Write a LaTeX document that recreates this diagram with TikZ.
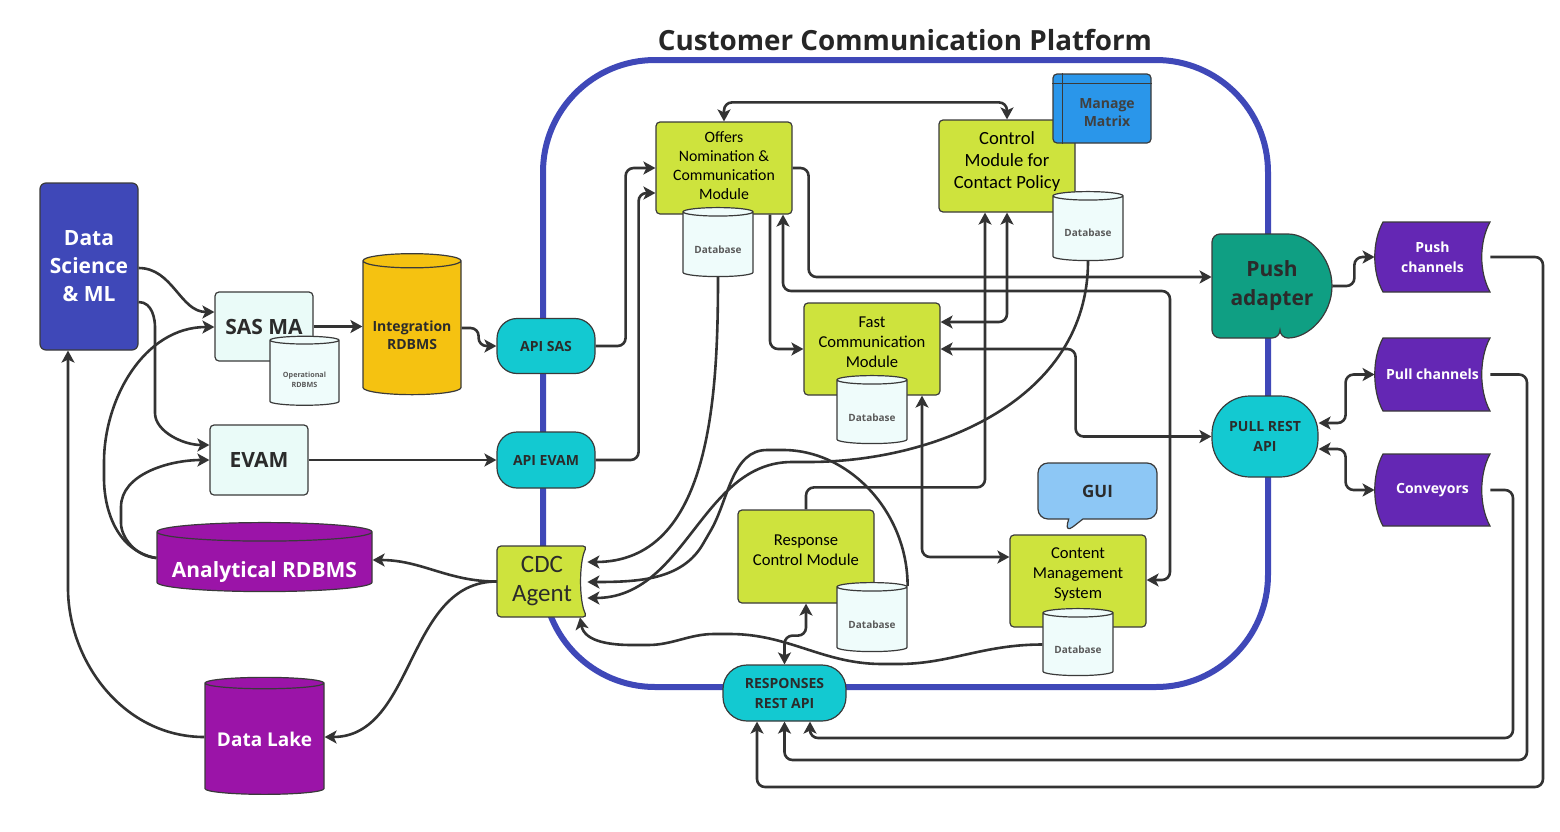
\documentclass[tikz,border=0pt]{standalone}
\usepackage{fontspec}
\setmainfont{Open Sans}
\newfontfamily\carl{Carlito}
\usetikzlibrary{arrows.meta, shapes.geometric, shapes.callouts}

\definecolor{ccpblue}{HTML}{3F48B8}
\definecolor{paleteal}{HTML}{EAFBF8}
\definecolor{dbfill}{HTML}{EFFCFB}
\definecolor{gold}{HTML}{F5C211}
\definecolor{turq}{HTML}{13C9D1}
\definecolor{lime}{HTML}{CEE33D}
\definecolor{lakepurple}{HTML}{9B14A8}
\definecolor{chanviolet}{HTML}{6427B4}
\definecolor{mmblue}{HTML}{2A96EA}
\definecolor{pushteal}{HTML}{0F9F83}
\definecolor{guiblue}{HTML}{8DC7F5}
\definecolor{linegray}{HTML}{333333}
\definecolor{edgegray}{HTML}{3A3A3A}
\definecolor{darktext}{HTML}{2B2B2B}
\definecolor{dbtext}{HTML}{5A5A5A}

% move the text of a cylinder down without changing its size
\newcommand\dbshift[2]{\raisebox{-#1}[\height][\depth]{\begin{tabular}{@{}c@{}}#2\end{tabular}}}

\tikzset{
  box/.style={draw=edgegray, line width=0.6pt, rounded corners=2pt, inner sep=0pt, align=center, text=darktext},
  module/.style={box, fill=lime, minimum width=68pt, minimum height=46pt},
  modtext/.style={align=center, text=black, font=\carl\fontsize{8.3}{10}\selectfont},
  db/.style={cylinder, shape border rotate=90, aspect=0.18, draw=edgegray, line width=0.6pt, fill=dbfill,
    inner sep=0pt, text=dbtext, font=\bfseries\fontsize{5}{6}\selectfont},
  api/.style={box, fill=turq, rounded corners=10pt, font=\bfseries\fontsize{7}{10}\selectfont},
  chan/.style={inner sep=0pt, align=center, text=white, font=\bfseries\fontsize{7}{10}\selectfont,
    minimum width=57.5pt, minimum height=35pt},
  conn/.style={draw=linegray, line width=1.3pt, rounded corners=4pt},
  arr/.style={-{Stealth[length=6pt, width=6.5pt, inset=1.5pt]}},
  arrs/.style={{Stealth[length=6pt, width=6.5pt, inset=1.5pt]}-{Stealth[length=6pt, width=6.5pt, inset=1.5pt]}}
}

\begin{document}
\begin{tikzpicture}[x=0.5pt, y=-0.5pt]
  \useasboundingbox (0,0) rectangle (1560,831);

  % platform frame and title
  \node (ccp) [draw=ccpblue, line width=3pt, rounded corners=56pt, inner sep=0pt,
    minimum width=362.5pt, minimum height=313.5pt] at (905.5,373.5) {};
  \node (title) at (905,40) [font=\bfseries\fontsize{13.9}{16}\selectfont, text=black!85] {Customer Communication Platform};

  % left side
  \node (ds) [box, fill=ccpblue, rounded corners=3pt, minimum width=49pt, minimum height=83.5pt, text=white,
    font=\bfseries\fontsize{10.5}{14}\selectfont] at (89,266.5) {Data\\Science\\\& ML};
  \node (sasma) [box, fill=paleteal, minimum width=49pt, minimum height=34.5pt,
    font=\bfseries\fontsize{10.5}{12}\selectfont] at (264,326.5) {SAS MA};
  \node (oprdbms) [db, minimum width=34.5pt, minimum height=34.5pt, font=\bfseries\fontsize{3.6}{5}\selectfont]
    at (304.5,373) {\dbshift{3.7pt}{Operational\\RDBMS}};
  \node (intdb) [db, fill=gold, minimum width=49pt, minimum height=70.5pt, text=darktext,
    font=\bfseries\fontsize{7}{9}\selectfont] at (412,328) {\dbshift{4.2pt}{Integration\\RDBMS}};
  \node (evam) [box, fill=paleteal, minimum width=49pt, minimum height=35pt,
    font=\bfseries\fontsize{10.5}{12}\selectfont] at (259,460) {EVAM};
  \node (anadb) [db, fill=lakepurple, aspect=0.1, minimum width=107.5pt, minimum height=34.5pt, text=white,
    font=\bfseries\fontsize{10.5}{12}\selectfont] at (264.5,562) {\dbshift{5.5pt}{Analytical RDBMS}};
  \node (lake) [db, fill=lakepurple, aspect=0.12, minimum width=59.5pt, minimum height=58.5pt, text=white,
    font=\bfseries\fontsize{9.5}{11}\selectfont] at (264.5,739) {Data Lake};

  % gateways on the frame
  \node (apisas) [api, minimum width=49pt, minimum height=27.5pt] at (546,346) {API SAS};
  \node (apievam) [api, minimum width=49pt, minimum height=28pt] at (546,460) {API EVAM};
  \filldraw [fill=lime, draw=edgegray, line width=0.6pt, rounded corners=2pt]
    (497,546) -- (587,546) .. controls (579,562) and (579,601) .. (587,617) -- (497,617) -- cycle;
  \node (cdc) [inner sep=0pt, minimum width=45pt, minimum height=35.5pt, align=center, text=darktext,
    font=\carl\fontsize{12.5}{14.5}\selectfont] at (542,581.5) {CDC\\Agent};
  \node (resp) [api, rounded corners=12pt, minimum width=61.5pt, minimum height=28pt] at (784.5,693) {RESPONSES\\REST API};
  \filldraw [fill=pushteal, draw=edgegray, line width=0.6pt, rounded corners=4pt]
    (1280,338) -- (1212,338) -- (1212,234) -- (1280,234) arc [start angle=90, end angle=-90, radius=26pt] -- cycle;
  \node (push) [inner sep=0pt, minimum width=60pt, minimum height=52pt, align=center, text=darktext,
    font=\bfseries\fontsize{10.5}{14.5}\selectfont] at (1272,286) {Push\\adapter};
  \node (pull) [api, rounded corners=19pt, minimum width=53pt, minimum height=40.5pt] at (1265,436.5) {PULL REST\\API};

  % modules inside the platform
  \node (offers) [module, label={[modtext, font=\carl\fontsize{7.9}{9.5}\selectfont, yshift=1pt]center:Offers\\Nomination \&\\Communication\\Module}]
    at (724,168) {};
  \node (offdb) [db, minimum width=35pt, minimum height=34.5pt] at (718,244.5) {\dbshift{3.3pt}{Database}};
  \node (ctrl) [module, label={[modtext, font=\carl\fontsize{9.3}{11}\selectfont, yshift=2pt]center:Control\\Module for\\Contact Policy}]
    at (1007,166) {};
  \node (mm) [box, fill=mmblue, minimum width=49pt, minimum height=34.5pt,
    label={[align=center, text=black!75, xshift=2.5pt, yshift=-2pt, font=\bfseries\fontsize{7}{9}\selectfont]center:Manage\\Matrix}]
    at (1102,108.5) {};
  \draw [edgegray, line width=0.6pt] ([xshift=5pt]mm.north west) -- ([xshift=5pt]mm.south west);
  \draw [edgegray, line width=0.6pt] ([yshift=-5pt]mm.north west) -- ([yshift=-5pt]mm.north east);
  \node (ctrldb) [db, minimum width=35pt, minimum height=34.5pt] at (1088,228.5) {\dbshift{3pt}{Database}};
  \node (fast) [module, label={[modtext, yshift=3.5pt]center:Fast\\Communication\\Module}] at (872,349) {};
  \node (fastdb) [db, minimum width=35pt, minimum height=34pt] at (872,412) {\dbshift{3.3pt}{Database}};
  \node (rcm) [module, minimum height=46.5pt, label={[modtext, yshift=3pt]center:Response\\Control Module}] at (806,556.5) {};
  \node (rcmdb) [db, minimum width=35pt, minimum height=34.5pt] at (872,619.5) {\dbshift{3.3pt}{Database}};
  \node (gui) [rectangle callout, callout absolute pointer={(1065,533)}, draw=edgegray, line width=0.6pt,
    fill=guiblue, rounded corners=5pt, inner sep=0pt, minimum width=59.5pt, minimum height=28pt, text=darktext,
    font=\bfseries\fontsize{8.5}{10}\selectfont] at (1097.5,491) {GUI};
  \node (cms) [module, label={[modtext, yshift=3.5pt]center:Content\\Management\\System}] at (1078,581) {};
  \node (cmsdb) [db, minimum width=35pt, minimum height=33.5pt] at (1078,644.5) {\dbshift{3.3pt}{Database}};

  % channels
  \foreach \yt/\yb in {222/292, 338/411, 454/526}
    \filldraw [fill=chanviolet, draw=edgegray, line width=0.6pt]
      (1383,\yt) -- (1490,\yt) .. controls (1479,\yt+20) and (1479,\yb-20) .. (1490,\yb)
      -- (1383,\yb) .. controls (1372,\yb-20) and (1372,\yt+20) .. cycle;
  \node (pushch) [chan] at (1432.5,257) {Push\\channels};
  \node (pullch) [chan, minimum height=36.5pt] at (1432.5,374.5) {Pull channels};
  \node (conv) [chan, minimum height=36pt] at (1432.5,490) {Conveyors};

  % connectors, left
  \draw [conn, arr] (ds.east |- 0,268) to [out=0, in=180] (sasma.west |- 0,312);
  \draw [conn, arr] (ds.east |- 0,302) to [out=0, in=90] (155,335) -- (155,405) to [out=-90, in=180] (evam.west |- 0,445);
  \draw [conn, arr] (anadb.west |- 0,558) to [out=170, in=-90] (104,470) to [out=90, in=180] (sasma.west |- 0,327);
  \draw [conn, arr] (anadb.west |- 0,558) to [out=175, in=-90] (121,515) to [out=90, in=180] (evam.west |- 0,460);
  \draw [conn, arr] (lake.west |- 0,737) to [out=180, in=-90] (68,580) -- (ds.south -| 68,0);
  \draw [conn, arr] (sasma.east) -- (intdb.west |- sasma.east);
  \draw [conn, arr] (intdb.west -| intdb.east) -- ++(17,0) |- (apisas.west);
  \draw [conn, arr] (evam.east) -- (apievam.west);
  \draw [conn, arr] (apisas.east) -- ++(30,0) |- (offers.west |- 0,168);
  \draw [conn, arr] (apievam.east) -- ++(43,0) |- (offers.west |- 0,193);
  \draw [conn, arr] (cdc.west) to [out=180, in=0] (anadb.east |- 0,560);
  \draw [conn, arr] (cdc.west) to [out=180, in=0] (lake.east |- 0,737);

  % connectors into the CDC agent
  \draw [conn, arr] (offdb.south) to [out=-90, in=0] (cdc.east |- 0,562);
  \draw [conn, arr] (rcmdb.east |- 0,586) to [out=90, in=0] (775,450) to [out=180, in=60] (707,537)
    to [out=240, in=0] (cdc.east |- 0,582);
  \draw [conn, arr] (ctrldb.south) to [out=-90, in=0] (800,462) to [out=180, in=0] (cdc.east |- 0,598);
  \draw [conn, arr] (cmsdb.west) to [out=180, in=0] (890,664) to [out=180, in=0] (722,634)
    to [out=180, in=0] (640,645) to [out=180, in=-80] (cdc.south -| 580,0);

  % connectors between modules
  \draw [conn, arrs] (offers.north) -- ++(0,-19) -| (ctrl.north);
  \draw [conn, arr] (offers.east |- 0,168) -- ++(16,0) |- (push.west |- 0,277);
  \draw [conn, arrs] (offers.south -| 783,0) |- (1170,291) |- (cms.east |- 0,580);
  \draw [conn, arr] (offers.south -| 770,0) |- (fast.west);
  \draw [conn, arr] (rcm.north) -- ++(0,-22) -| (ctrl.south -| 985,0);
  \draw [conn, arrs] (ctrl.south) |- (fast.east |- 0,322);
  \draw [conn, arrs] (fast.east) -- ++(135,0) |- (pull.west);
  \draw [conn, arrs] (fast.south -| 922,0) |- (cms.west |- 0,557);
  \draw [conn, arrs] (rcm.south) -- ++(0,32) -| (resp.north);

  % connectors, right
  \draw [conn, arr] (push.east) -- ++(22,0) |- (pushch.west);
  \draw [conn, arrs] (pull.east |- 0,423) -- ++(27,0) |- (pullch.west);
  \draw [conn, arrs] (pull.east |- 0,449) -- ++(27,0) |- (conv.west);
  \draw [conn, arr] (pushch.east) -| (1543,787) -| (resp.south -| 757,0);
  \draw [conn, arr] (pullch.east) -| (1527,760) -| (resp.south);
  \draw [conn, arr] (conv.east) -| (1513,738) -| (resp.south -| 810,0);
\end{tikzpicture}
\end{document}
